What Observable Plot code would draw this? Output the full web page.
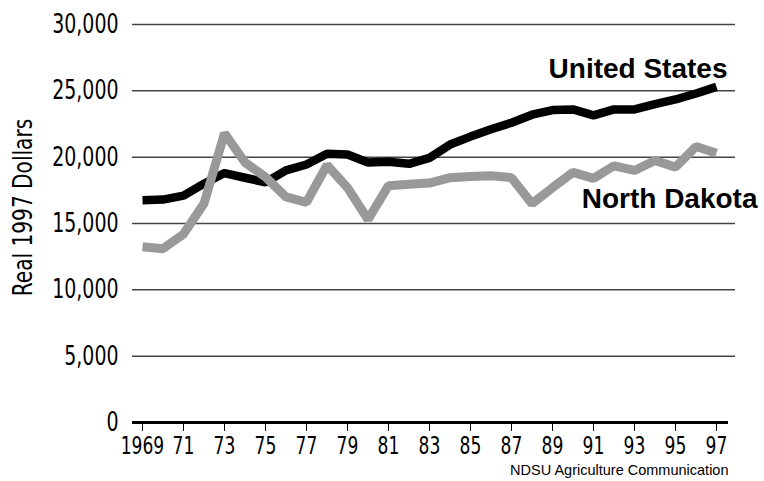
<!DOCTYPE html>
<html>
<head>
<meta charset="utf-8">
<script src="https://cdn.jsdelivr.net/npm/d3@7"></script>
<script src="https://cdn.jsdelivr.net/npm/@observablehq/plot@0.6"></script>
<style>
  html, body { margin: 0; padding: 0; background: #fff; }
</style>
</head>
<body>
<div id="chart"></div>
<script>
const years = [1969,1970,1971,1972,1973,1974,1975,1976,1977,1978,1979,1980,1981,1982,1983,1984,1985,1986,1987,1988,1989,1990,1991,1992,1993,1994,1995,1996,1997];
const unitedStates = [16750,16800,17100,18000,18800,18450,18100,19000,19450,20250,20200,19600,19650,19500,19950,20950,21550,22100,22600,23200,23550,23600,23150,23600,23600,24000,24350,24800,25300];
const northDakota = [13250,13100,14200,16500,21800,19600,18500,17000,16600,19400,17700,15300,17850,17950,18050,18450,18550,18600,18450,16500,17700,18850,18400,19350,19000,19750,19250,20800,20300];
const seriesNames = ["United States", "North Dakota"];
const yTicks = [0,5000,10000,15000,20000,25000,30000];
const gridValues = [5000,10000,15000,20000,25000,30000];
const xTicks = [1969,1971,1973,1975,1977,1979,1981,1983,1985,1987,1989,1991,1993,1995,1997];
const xTickLabels = ["1969","71","73","75","77","79","81","83","85","87","89","91","93","95","97"];
const yLabel = "Real 1997 Dollars";
const caption = "NDSU Agriculture Communication";

const us = years.map((y, i) => ({year: y, value: unitedStates[i]}));
const nd = years.map((y, i) => ({year: y, value: northDakota[i]}));

const narrow = "'DejaVu Sans Condensed', 'Liberation Sans Narrow', sans-serif";
const bold = "'Liberation Sans', Arial, Helvetica, sans-serif";

const chart = Plot.plot({
  width: 764,
  height: 481,
  marginLeft: 142,
  marginRight: 48,
  marginTop: 24,
  marginBottom: 59,
  style: {fontFamily: narrow, background: "#fff", color: "#000"},
  x: {domain: [1969, 1997]},
  y: {domain: [0, 30000]},
  marks: [
    Plot.ruleY(gridValues, {stroke: "#444", strokeWidth: 1.5, insetLeft: -10, insetRight: -19}),
    Plot.ruleY([0], {stroke: "#000", strokeWidth: 3, insetLeft: -10, insetRight: -12}),
    Plot.axisX({
      ticks: xTicks,
      tickFormat: d => xTickLabels[xTicks.indexOf(d)],
      tickSize: 9,
      tickPadding: 5,
      fontSize: 25,
      label: null,
      stroke: "#000"
    }),
    Plot.axisY({
      ticks: yTicks,
      tickFormat: d3.format(","),
      tickSize: 0,
      tickPadding: 24,
      fontSize: 27,
      label: null
    }),
    Plot.text([yLabel], {frameAnchor: "left", textAnchor: "middle", rotate: -90, dx: -119, dy: -16, fontSize: 26, fontFamily: narrow}),
    Plot.line(us, {x: "year", y: "value", stroke: "#000", strokeWidth: 8.5, strokeLinejoin: "miter", strokeLinecap: "butt"}),
    Plot.line(nd, {x: "year", y: "value", stroke: "#999", strokeWidth: 9, strokeLinejoin: "miter", strokeLinecap: "butt"}),
    Plot.text([us[us.length - 1]], {x: "year", y: "value", text: () => seriesNames[0], textAnchor: "end", dx: 11, dy: -18, fontSize: 28, fontWeight: "bold", fontFamily: bold, fill: "#000"}),
    Plot.text([nd[nd.length - 1]], {x: "year", y: "value", text: () => seriesNames[1], textAnchor: "end", dx: 41, dy: 46, fontSize: 28, fontWeight: "bold", fontFamily: bold, fill: "#000"}),
    Plot.text([caption], {frameAnchor: "bottom-right", textAnchor: "end", lineAnchor: "bottom", dx: 12, dy: 52, fontSize: 14.5, fontFamily: bold, fill: "#000"})
  ]
});
document.getElementById("chart").appendChild(chart);

// condense the axis typography to match the narrow face of the original
const xTexts = new Set(xTickLabels);
const yTexts = new Set(yTicks.map(d3.format(",")));
chart.querySelectorAll("text").forEach(t => {
  const s = t.textContent;
  let k = null;
  if (yTexts.has(s)) k = 0.78;
  else if (xTexts.has(s)) k = 0.76;
  else if (s === yLabel) k = 0.86;
  if (k == null) return;
  const w = t.getComputedTextLength();
  if (w > 0) {
    t.setAttribute("textLength", (w * k).toFixed(1));
    t.setAttribute("lengthAdjust", "spacingAndGlyphs");
  }
});
</script>
</body>
</html>
